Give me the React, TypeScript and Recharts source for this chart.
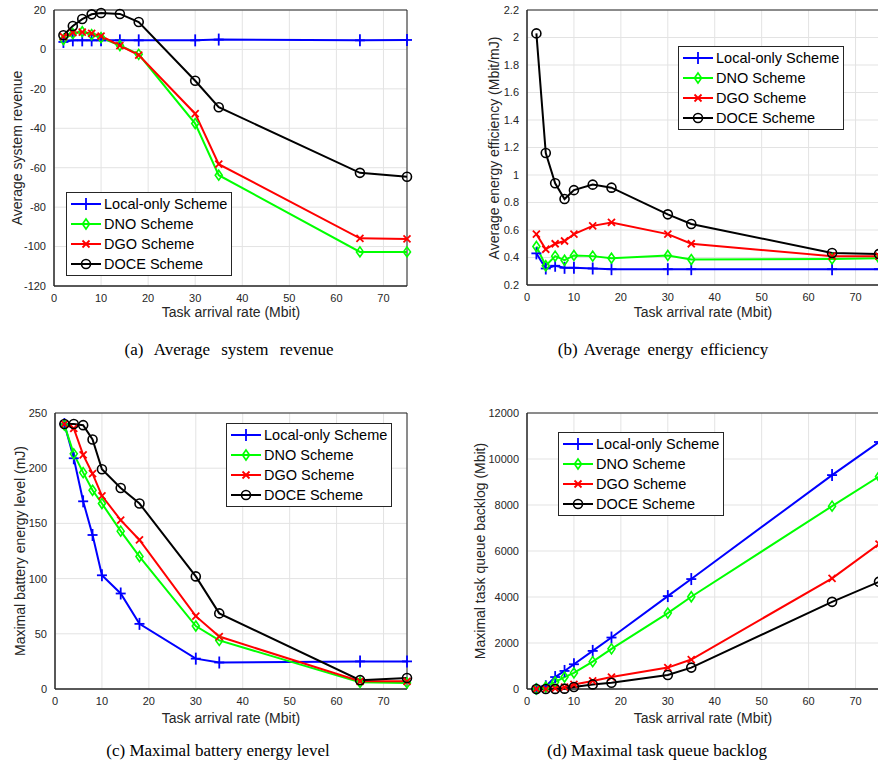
import { CartesianGrid, Line, LineChart, ReferenceArea, XAxis, YAxis } from "recharts";

const rates = [2, 4, 6, 8, 10, 14, 18, 30, 35, 65, 75];

// (a) average system revenue
const revLocal = [3.8, 4.6, 4.6, 4.6, 4.6, 4.6, 4.6, 4.6, 5, 4.6, 4.8];
const revDNO = [5, 8, 9, 7.5, 6, 2, -2.5, -37.6, -63.8, -102.7, -102.7];
const revDGO = [6.5, 8.5, 8.8, 8.1, 6.8, 1.9, -2.9, -32.6, -58.2, -95.8, -96.1];
const revDOCE = [7.2, 11.9, 15.4, 17.8, 18.5, 18, 13.9, -15.9, -29.3, -62.6, -64.6];

// (b) average energy efficiency
const effLocal = [0.43, 0.32, 0.34, 0.325, 0.325, 0.32, 0.315, 0.315, 0.315, 0.315, 0.315];
const effDNO = [0.48, 0.34, 0.41, 0.38, 0.415, 0.41, 0.395, 0.415, 0.385, 0.39, 0.395];
const effDGO = [0.57, 0.46, 0.5, 0.52, 0.57, 0.63, 0.655, 0.57, 0.5, 0.41, 0.41];
const effDOCE = [2.03, 1.16, 0.94, 0.825, 0.89, 0.93, 0.908, 0.714, 0.644, 0.433, 0.425];

// (c) maximal battery energy level
const batLocal = [240, 209, 170, 139.5, 103, 86.5, 59, 27.5, 24, 25, 25];
const batDNO = [239, 213, 196, 180, 168, 143, 120, 57, 44, 6, 5.5];
const batDGO = [240, 236, 212, 195, 175, 153, 135, 66, 47.5, 7, 7];
const batDOCE = [240, 240, 239, 226, 199, 182, 168, 102, 68.5, 8, 10];

// (d) maximal task queue backlog
const qLocal = [0, 120, 520, 785, 1075, 1656, 2237, 4040, 4780, 9300, 10740];
const qDNO = [0, 90, 305, 520, 700, 1190, 1745, 3300, 4010, 7950, 9240];
const qDGO = [0, 10, 30, 80, 200, 350, 520, 930, 1280, 4810, 6300];
const qDOCE = [0, 0, 5, 15, 90, 200, 275, 610, 930, 3790, 4660];

const xTicks = [0, 10, 20, 30, 40, 50, 60, 70];
const names = ["Local-only Scheme", "DNO Scheme", "DGO Scheme", "DOCE Scheme"];
const colors = ["#0000ff", "#00ff00", "#ff0000", "#000000"];
const shapes = ["plus", "diamond", "cross", "circle"];

const SANS = "'Liberation Sans', Arial, sans-serif";
const SERIF = "'Liberation Serif', 'Times New Roman', serif";

const Marker = ({ cx, cy, shape, color }: any) => {
  if (cx == null || cy == null) return null;
  if (shape === "plus")
    return (
      <g stroke={color} strokeWidth={1.8}>
        <line x1={cx - 5} y1={cy} x2={cx + 5} y2={cy} />
        <line x1={cx} y1={cy - 6} x2={cx} y2={cy + 6} />
      </g>
    );
  if (shape === "diamond")
    return (
      <polygon
        points={`${cx},${cy - 5} ${cx + 3.5},${cy} ${cx},${cy + 5} ${cx - 3.5},${cy}`}
        fill="none"
        stroke={color}
        strokeWidth={1.6}
      />
    );
  if (shape === "cross")
    return (
      <g stroke={color} strokeWidth={1.8}>
        <line x1={cx - 3.5} y1={cy - 3.5} x2={cx + 3.5} y2={cy + 3.5} />
        <line x1={cx - 3.5} y1={cy + 3.5} x2={cx + 3.5} y2={cy - 3.5} />
      </g>
    );
  return <circle cx={cx} cy={cy} r={4.5} fill="none" stroke={color} strokeWidth={1.6} />;
};

const LegendBox = ({ left, top }: { left: number; top: number }) => (
  <div
    style={{
      position: "absolute",
      left,
      top,
      background: "#fff",
      border: "1px solid #262626",
      padding: "1px 4px 1px 2px",
      fontFamily: SANS,
      fontSize: 14.5,
      lineHeight: "20px",
      color: "#000",
    }}
  >
    {names.map((n, i) => (
      <div key={n} style={{ display: "flex", alignItems: "center", height: 20 }}>
        <svg width={34} height={20}>
          <line x1={2} y1={10} x2={32} y2={10} stroke={colors[i]} strokeWidth={2} />
          <Marker cx={17} cy={10} shape={shapes[i]} color={colors[i]} />
        </svg>
        <span style={{ marginLeft: 1 }}>{n}</span>
      </div>
    ))}
  </div>
);

const Panel = ({
  left,
  top,
  width,
  margin,
  yWidth,
  series,
  yDomain,
  yTicks,
  yFmt,
}: any) => {
  const table = rates.map((x, i) => ({
    x,
    s0: series[0][i],
    s1: series[1][i],
    s2: series[2][i],
    s3: series[3][i],
  }));
  return (
    <div style={{ position: "absolute", left, top }}>
      <LineChart width={width} height={330} data={table} margin={margin}>
        <CartesianGrid stroke="#e3e3e3" strokeWidth={1} />
        <XAxis
          dataKey="x"
          type="number"
          domain={[0, 75]}
          ticks={xTicks}
          tickLine={false}
          axisLine={{ stroke: "#262626" }}
          tick={{ fontSize: 11, fill: "#262626", fontFamily: SANS }}
          height={30}
        />
        <YAxis
          type="number"
          domain={yDomain}
          ticks={yTicks}
          tickLine={false}
          axisLine={{ stroke: "#262626" }}
          tick={{ fontSize: 11, fill: "#262626", fontFamily: SANS }}
          tickFormatter={yFmt}
          width={yWidth}
          interval={0}
        />
        <ReferenceArea
          x1={0}
          x2={75}
          y1={yDomain[0]}
          y2={yDomain[1]}
          fill="none"
          stroke="#262626"
          strokeWidth={1}
        />
        {[0, 1, 2, 3].map((k) => (
          <Line
            key={k}
            type="linear"
            dataKey={`s${k}`}
            stroke={colors[k]}
            strokeWidth={2}
            isAnimationActive={false}
            dot={(p: any) => (
              <Marker key={`m${k}-${p.index}`} cx={p.cx} cy={p.cy} shape={shapes[k]} color={colors[k]} />
            )}
            activeDot={false}
          />
        ))}
      </LineChart>
    </div>
  );
};

const Text = ({ x, y, children, rotate, size, serif, ws }: any) => (
  <div
    style={{
      position: "absolute",
      left: x,
      top: y,
      transform: `translate(-50%, -50%)${rotate ? " rotate(-90deg)" : ""}`,
      whiteSpace: "pre",
      wordSpacing: ws || 0,
      fontFamily: serif ? SERIF : SANS,
      fontSize: size,
      color: serif ? "#000" : "#262626",
    }}
  >
    {children}
  </div>
);

export default function App() {
  return (
    <div
      style={{
        position: "absolute",
        left: 0,
        top: 0,
        width: 878,
        height: 770,
        overflow: "hidden",
        background: "#fff",
      }}
    >
      <Panel
        left={0}
        top={0}
        width={430}
        margin={{ top: 10, right: 23, left: 10, bottom: 14 }}
        yWidth={44}
        series={[revLocal, revDNO, revDGO, revDOCE]}
        yDomain={[-120, 20]}
        yTicks={[-120, -100, -80, -60, -40, -20, 0, 20]}
      />
      <Panel
        left={440}
        top={0}
        width={440}
        margin={{ top: 10, right: 1, left: 47, bottom: 15 }}
        yWidth={40}
        series={[effLocal, effDNO, effDGO, effDOCE]}
        yDomain={[0.2, 2.2]}
        yTicks={[0.2, 0.4, 0.6, 0.8, 1, 1.2, 1.4, 1.6, 1.8, 2, 2.2]}
        yFmt={(v: number) => String(+v.toFixed(1))}
      />
      <Panel
        left={0}
        top={400}
        width={430}
        margin={{ top: 13, right: 23, left: 11, bottom: 11 }}
        yWidth={44}
        series={[batLocal, batDNO, batDGO, batDOCE]}
        yDomain={[0, 250]}
        yTicks={[0, 50, 100, 150, 200, 250]}
      />
      <Panel
        left={440}
        top={400}
        width={440}
        margin={{ top: 13, right: 1, left: 47, bottom: 11 }}
        yWidth={40}
        series={[qLocal, qDNO, qDGO, qDOCE]}
        yDomain={[0, 12000]}
        yTicks={[0, 2000, 4000, 6000, 8000, 10000, 12000]}
      />

      <LegendBox left={66} top={192} />
      <LegendBox left={678} top={46} />
      <LegendBox left={226} top={423} />
      <LegendBox left={558} top={432} />

      <Text x={17} y={148} rotate size={14}>Average system revenue</Text>
      <Text x={494} y={148} rotate size={14}>Average energy efficiency (Mbit/mJ)</Text>
      <Text x={20} y={551} rotate size={14}>Maximal battery energy level (mJ)</Text>
      <Text x={480} y={551} rotate size={14}>Maximal task queue backlog (Mbit)</Text>

      <Text x={231} y={312} size={14}>Task arrival rate (Mbit)</Text>
      <Text x={703} y={312} size={14}>Task arrival rate (Mbit)</Text>
      <Text x={231} y={718} size={14}>Task arrival rate (Mbit)</Text>
      <Text x={703} y={718} size={14}>Task arrival rate (Mbit)</Text>

      <Text x={229} y={350} size={17} serif ws={7}>(a) Average system revenue</Text>
      <Text x={663} y={350} size={17} serif ws={3}>(b) Average energy efficiency</Text>
      <Text x={218} y={751} size={17} serif>(c) Maximal battery energy level</Text>
      <Text x={657} y={751} size={17} serif>(d) Maximal task queue backlog</Text>
    </div>
  );
}
